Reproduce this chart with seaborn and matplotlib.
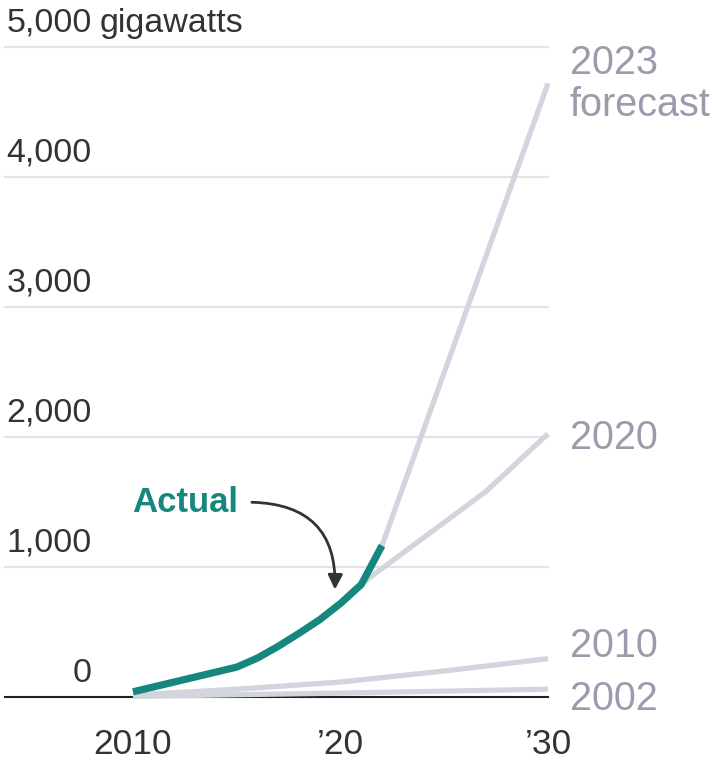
import matplotlib
matplotlib.use("Agg")
import matplotlib.pyplot as plt
import seaborn as sns
import pandas as pd

# ---- data ----
actual_years = [2010, 2015, 2016, 2017, 2018, 2019, 2020, 2021, 2022]
actual_gw = [40, 230, 300, 390, 490, 595, 720, 865, 1165]

f2023_years = [2022, 2030]
f2023_gw = [1165, 4720]
f2020_years = [2021, 2027, 2030]
f2020_gw = [870, 1580, 2025]
f2010_years = [2010, 2015, 2020, 2025, 2030]
f2010_gw = [15, 60, 115, 200, 295]
f2002_years = [2010, 2020, 2030]
f2002_gw = [5, 30, 60]

series_names = ["2023 forecast", "2020", "2010", "2002"]
y_ticks = [0, 1000, 2000, 3000, 4000, 5000]
y_tick_labels = ["0", "1,000", "2,000", "3,000", "4,000", "5,000"]
x_ticks = [2010, 2020, 2030]
x_tick_labels = ["2010", "\u201920", "\u201930"]
unit_label = "gigawatts"
actual_label = "Actual"

# ---- styling ----
sns.set_theme(style="white")
plt.rcParams["font.family"] = ["Liberation Sans", "DejaVu Sans"]

TEAL = "#16877f"
GRAY_LINE = "#d3d5de"
GRAY_TEXT = "#9a9cad"
DARK = "#333333"
GRID = "#e3e3e3"

fig = plt.figure(figsize=(7.12, 7.64), dpi=100)
ax = fig.add_axes([5 / 712, 67 / 764, 543 / 712, 650 / 764])

forecasts = pd.concat([
    pd.DataFrame({"year": f2023_years, "gw": f2023_gw, "series": series_names[0]}),
    pd.DataFrame({"year": f2020_years, "gw": f2020_gw, "series": series_names[1]}),
    pd.DataFrame({"year": f2010_years, "gw": f2010_gw, "series": series_names[2]}),
    pd.DataFrame({"year": f2002_years, "gw": f2002_gw, "series": series_names[3]}),
], ignore_index=True)
actual = pd.DataFrame({"year": actual_years, "gw": actual_gw})

ax.set_xlim(2003.83, 2030)
ax.set_ylim(0, 5000)

# gridlines
for v in y_ticks[1:]:
    ax.axhline(v, color=GRID, lw=1.6, zorder=0, clip_on=False)

sns.lineplot(data=forecasts, x="year", y="gw", hue="series", units="series",
             estimator=None, palette={s: GRAY_LINE for s in series_names},
             legend=False, linewidth=3.8, ax=ax, clip_on=False,
             solid_capstyle="butt", solid_joinstyle="round", zorder=2, sort=False)
sns.lineplot(data=actual, x="year", y="gw", color=TEAL, linewidth=5.2, ax=ax,
             clip_on=False, solid_capstyle="butt", solid_joinstyle="round",
             zorder=3, sort=False)

# axes / spines
for s in ["left", "right", "top"]:
    ax.spines[s].set_visible(False)
ax.spines["bottom"].set_color("#222222")
ax.spines["bottom"].set_linewidth(1.5)
ax.spines["bottom"].set_zorder(1)
ax.set_yticks([])
ax.set_xticks(x_ticks)
ax.set_xticklabels(x_tick_labels, fontsize=25.5, color=DARK)
ax.tick_params(axis="x", direction="out", length=9.5, width=1.5, color="#222222", pad=12.5)
ax.set_xlabel("")
ax.set_ylabel("")

# y tick labels (above gridlines, right-aligned)
for v, lab in zip(y_ticks, y_tick_labels):
    ax.text(2008.02, v + 116, lab, ha="right", va="baseline", fontsize=24.5, color=DARK)
ax.text(2008.41, 5000 + 116, unit_label, ha="left", va="baseline", fontsize=24.5, color=DARK)

# right-side series labels
lab_x = 2031.06
ax.text(lab_x, 4795, "2023", ha="left", va="baseline", fontsize=28.5, color=GRAY_TEXT)
ax.text(lab_x, 4471, "forecast", ha="left", va="baseline", fontsize=28.5, color=GRAY_TEXT)
ax.text(lab_x, 1907, series_names[1], ha="left", va="baseline", fontsize=28.5, color=GRAY_TEXT)
ax.text(lab_x, 309, series_names[2], ha="left", va="baseline", fontsize=28.5, color=GRAY_TEXT)
ax.text(lab_x, -100, series_names[3], ha="left", va="baseline", fontsize=28.5, color=GRAY_TEXT)

# "Actual" annotation
ax.text(2012.5, 1421, actual_label, ha="center", va="baseline", fontsize=25,
        fontweight="bold", color=TEAL)
ax.annotate("", xy=(2019.73, 826), xytext=(2015.73, 1498),
            arrowprops=dict(arrowstyle="-|>", connectionstyle="arc3,rad=-0.5",
                            color=DARK, lw=2, mutation_scale=22,
                            shrinkA=0, shrinkB=0))

fig.savefig("out.png", dpi=100)
